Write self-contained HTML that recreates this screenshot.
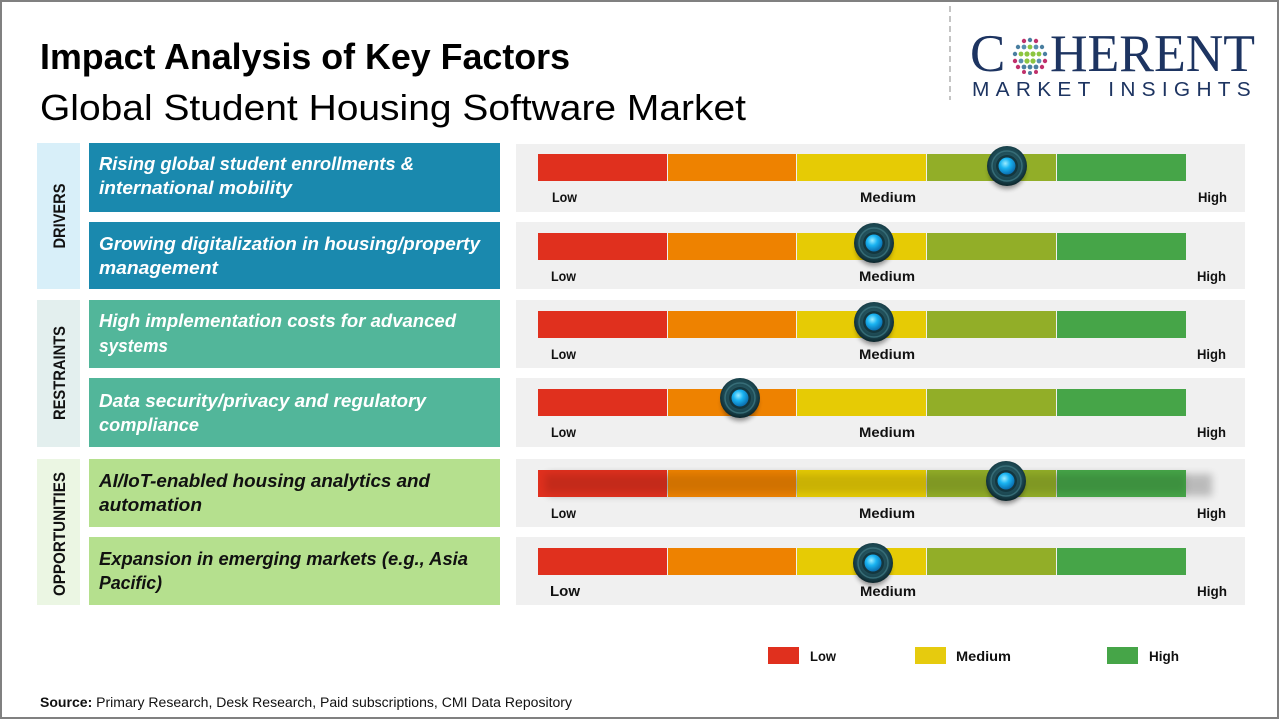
<!DOCTYPE html>
<html><head><meta charset="utf-8"><style>
html,body{margin:0;padding:0;background:#fff;}
svg{display:block;}
text{font-family:"Liberation Sans",sans-serif;}
</style></head><body>
<svg width="1280" height="720" viewBox="0 0 1280 720" xmlns="http://www.w3.org/2000/svg">
<defs>
<radialGradient id="ko" cx="50%" cy="45%" r="55%">
<stop offset="0" stop-color="#2f6570"/><stop offset="0.75" stop-color="#1b4650"/><stop offset="1" stop-color="#0c252b"/>
</radialGradient>
<radialGradient id="kb" cx="40%" cy="35%" r="65%">
<stop offset="0" stop-color="#9cecff"/><stop offset="0.45" stop-color="#1ab4f2"/><stop offset="1" stop-color="#0a6fb0"/>
</radialGradient>
<filter id="bl" x="-50%" y="-50%" width="200%" height="200%"><feGaussianBlur stdDeviation="2.5"/></filter>
<filter id="bl2" x="-20%" y="-100%" width="140%" height="300%"><feGaussianBlur stdDeviation="4"/></filter>
<g id="knob">
<ellipse cx="0" cy="5" rx="18" ry="18" fill="#000" opacity="0.4" filter="url(#bl)"/>
<circle r="20" fill="url(#ko)"/>
<circle r="15" fill="none" stroke="#3d7580" stroke-width="1.5" opacity="0.8"/>
<circle r="11" fill="#14363e"/>
<circle r="8.5" fill="url(#kb)"/>
</g>
<g id="bar">
<rect x="538" y="0" width="129" height="27" fill="#e0301e"/>
<rect x="668" y="0" width="128" height="27" fill="#ee8200"/>
<rect x="797" y="0" width="129" height="27" fill="#e6cb05"/>
<rect x="927" y="0" width="129" height="27" fill="#92ae28"/>
<rect x="1057" y="0" width="129" height="27" fill="#46a548"/>
</g>
</defs>

<!-- border -->
<rect x="1" y="1" width="1277" height="717" fill="#fff" stroke="#808080" stroke-width="2"/>

<!-- Title -->
<text x="40" y="69" font-size="36" font-weight="bold" fill="#000" textLength="530" lengthAdjust="spacingAndGlyphs">Impact Analysis of Key Factors</text>
<text x="40" y="120" font-size="36" fill="#000" textLength="706" lengthAdjust="spacingAndGlyphs">Global Student Housing Software Market</text>

<!-- Logo -->
<line x1="950" y1="6" x2="950" y2="100" stroke="#b0b0b0" stroke-width="1.5" stroke-dasharray="6 4"/>
<text x="970" y="71" font-size="53" fill="#1d3461" style="font-family:'Liberation Serif',serif">C</text>
<text x="1050" y="71" font-size="53" fill="#1d3461" style="font-family:'Liberation Serif',serif" textLength="205" lengthAdjust="spacingAndGlyphs">HERENT</text>
<g>
<circle cx="1024" cy="41" r="2.2" fill="#c0316b"/><circle cx="1030" cy="40" r="2.2" fill="#4a7fa0"/><circle cx="1036" cy="41" r="2.2" fill="#c0316b"/>
<circle cx="1018" cy="47" r="2.2" fill="#4a7fa0"/><circle cx="1024" cy="47" r="2.4" fill="#5a8fb0"/><circle cx="1030" cy="47" r="2.4" fill="#8cc540"/><circle cx="1036" cy="47" r="2.4" fill="#5a8fb0"/><circle cx="1042" cy="47" r="2.2" fill="#4a7fa0"/>
<circle cx="1015" cy="54" r="2.2" fill="#4a7fa0"/><circle cx="1021" cy="54" r="2.4" fill="#8cc540"/><circle cx="1027" cy="54" r="2.6" fill="#8cc540"/><circle cx="1033" cy="54" r="2.6" fill="#8cc540"/><circle cx="1039" cy="54" r="2.4" fill="#8cc540"/><circle cx="1045" cy="54" r="2.2" fill="#4a7fa0"/>
<circle cx="1015" cy="61" r="2.2" fill="#c0316b"/><circle cx="1021" cy="61" r="2.4" fill="#5a8fb0"/><circle cx="1027" cy="61" r="2.6" fill="#8cc540"/><circle cx="1033" cy="61" r="2.6" fill="#8cc540"/><circle cx="1039" cy="61" r="2.4" fill="#5a8fb0"/><circle cx="1045" cy="61" r="2.2" fill="#c0316b"/>
<circle cx="1018" cy="67" r="2.2" fill="#c0316b"/><circle cx="1024" cy="67" r="2.4" fill="#4a7fa0"/><circle cx="1030" cy="67" r="2.4" fill="#4a7fa0"/><circle cx="1036" cy="67" r="2.4" fill="#4a7fa0"/><circle cx="1042" cy="67" r="2.2" fill="#c0316b"/>
<circle cx="1024" cy="72" r="2" fill="#c0316b"/><circle cx="1030" cy="73" r="2" fill="#4a7fa0"/><circle cx="1036" cy="72" r="2" fill="#c0316b"/>
</g>
<text x="972" y="96" font-size="20" fill="#1d3461" textLength="285" lengthAdjust="spacingAndGlyphs" letter-spacing="6">MARKET INSIGHTS</text>

<!-- Category boxes -->
<rect x="37" y="143" width="43" height="146" fill="#d8eff9"/>
<rect x="37" y="300" width="43" height="147" fill="#e3efee"/>
<rect x="37" y="459" width="43" height="146" fill="#ebf6e3"/>
<text transform="translate(65,216) rotate(-90)" text-anchor="middle" font-size="17" font-weight="bold" fill="#111" textLength="65" lengthAdjust="spacingAndGlyphs">DRIVERS</text>
<text transform="translate(65,373) rotate(-90)" text-anchor="middle" font-size="17" font-weight="bold" fill="#111" textLength="94" lengthAdjust="spacingAndGlyphs">RESTRAINTS</text>
<text transform="translate(65,534) rotate(-90)" text-anchor="middle" font-size="17" font-weight="bold" fill="#111" textLength="124" lengthAdjust="spacingAndGlyphs">OPPORTUNITIES</text>

<!-- Factor boxes -->
<rect x="89" y="143" width="411" height="69" fill="#1a89ae"/>
<rect x="89" y="222" width="411" height="67" fill="#1a89ae"/>
<rect x="89" y="300" width="411" height="68" fill="#52b69a"/>
<rect x="89" y="378" width="411" height="69" fill="#52b69a"/>
<rect x="89" y="459" width="411" height="68" fill="#b5e08e"/>
<rect x="89" y="537" width="411" height="68" fill="#b5e08e"/>

<g font-size="18" font-weight="bold" font-style="italic">
<text x="99" y="170" fill="#fff" textLength="315" lengthAdjust="spacingAndGlyphs">Rising global student enrollments &amp;</text>
<text x="99" y="194" fill="#fff" textLength="193" lengthAdjust="spacingAndGlyphs">international mobility</text>
<text x="99" y="250" fill="#fff" textLength="381" lengthAdjust="spacingAndGlyphs">Growing digitalization in housing/property</text>
<text x="99" y="274" fill="#fff" textLength="119" lengthAdjust="spacingAndGlyphs">management</text>
<text x="99" y="327" fill="#fff" textLength="357" lengthAdjust="spacingAndGlyphs">High implementation costs for advanced</text>
<text x="99" y="352" fill="#fff" textLength="69" lengthAdjust="spacingAndGlyphs">systems</text>
<text x="99" y="407" fill="#fff" textLength="327" lengthAdjust="spacingAndGlyphs">Data security/privacy and regulatory</text>
<text x="99" y="431" fill="#fff" textLength="100" lengthAdjust="spacingAndGlyphs">compliance</text>
<text x="99" y="487" fill="#111" textLength="331" lengthAdjust="spacingAndGlyphs">AI/IoT-enabled housing analytics and</text>
<text x="99" y="511" fill="#111" textLength="103" lengthAdjust="spacingAndGlyphs">automation</text>
<text x="99" y="565" fill="#111" textLength="369" lengthAdjust="spacingAndGlyphs">Expansion in emerging markets (e.g., Asia</text>
<text x="99" y="589" fill="#111" textLength="63" lengthAdjust="spacingAndGlyphs">Pacific)</text>
</g>

<!-- Gauge panels -->
<rect x="516" y="144" width="729" height="68" fill="#f0f0f0"/>
<rect x="516" y="222" width="729" height="67" fill="#f0f0f0"/>
<rect x="516" y="300" width="729" height="68" fill="#f0f0f0"/>
<rect x="516" y="378" width="729" height="69" fill="#f0f0f0"/>
<rect x="516" y="459" width="729" height="68" fill="#f0f0f0"/>
<rect x="516" y="537" width="729" height="68" fill="#f0f0f0"/>

<use href="#bar" y="154"/>
<use href="#bar" y="233"/>
<use href="#bar" y="311"/>
<use href="#bar" y="389"/>
<rect x="548" y="474" width="664" height="22" fill="#000" opacity="0.22" filter="url(#bl2)"/>
<use href="#bar" y="470"/>
<rect x="545" y="474" width="641" height="19" fill="#000" opacity="0.12" filter="url(#bl2)"/>
<use href="#bar" y="548"/>

<g font-size="14" font-weight="bold" fill="#111">
<text x="552" y="202" textLength="25" lengthAdjust="spacingAndGlyphs">Low</text>
<text x="860" y="202" textLength="56" lengthAdjust="spacingAndGlyphs">Medium</text>
<text x="1198" y="202" textLength="29" lengthAdjust="spacingAndGlyphs">High</text>
<text x="551" y="281" textLength="25" lengthAdjust="spacingAndGlyphs">Low</text>
<text x="859" y="281" textLength="56" lengthAdjust="spacingAndGlyphs">Medium</text>
<text x="1197" y="281" textLength="29" lengthAdjust="spacingAndGlyphs">High</text>
<text x="551" y="359" textLength="25" lengthAdjust="spacingAndGlyphs">Low</text>
<text x="859" y="359" textLength="56" lengthAdjust="spacingAndGlyphs">Medium</text>
<text x="1197" y="359" textLength="29" lengthAdjust="spacingAndGlyphs">High</text>
<text x="551" y="437" textLength="25" lengthAdjust="spacingAndGlyphs">Low</text>
<text x="859" y="437" textLength="56" lengthAdjust="spacingAndGlyphs">Medium</text>
<text x="1197" y="437" textLength="29" lengthAdjust="spacingAndGlyphs">High</text>
<text x="551" y="518" textLength="25" lengthAdjust="spacingAndGlyphs">Low</text>
<text x="859" y="518" textLength="56" lengthAdjust="spacingAndGlyphs">Medium</text>
<text x="1197" y="518" textLength="29" lengthAdjust="spacingAndGlyphs">High</text>
<text x="550" y="596" font-size="15" textLength="30" lengthAdjust="spacingAndGlyphs">Low</text>
<text x="860" y="596" textLength="56" lengthAdjust="spacingAndGlyphs">Medium</text>
<text x="1197" y="596" textLength="30" lengthAdjust="spacingAndGlyphs">High</text>
</g>

<!-- Knobs -->
<use href="#knob" x="1007" y="166"/>
<use href="#knob" x="874" y="243"/>
<use href="#knob" x="874" y="322"/>
<use href="#knob" x="740" y="398"/>
<use href="#knob" x="1006" y="481"/>
<use href="#knob" x="873" y="563"/>

<!-- Legend -->
<rect x="768" y="647" width="31" height="17" fill="#e0301e"/>
<text x="810" y="661" font-size="14" font-weight="bold" fill="#111" textLength="26" lengthAdjust="spacingAndGlyphs">Low</text>
<rect x="915" y="647" width="31" height="17" fill="#e6cb0e"/>
<text x="956" y="661" font-size="14" font-weight="bold" fill="#111" textLength="55" lengthAdjust="spacingAndGlyphs">Medium</text>
<rect x="1107" y="647" width="31" height="17" fill="#46a548"/>
<text x="1149" y="661" font-size="14" font-weight="bold" fill="#111" textLength="30" lengthAdjust="spacingAndGlyphs">High</text>

<!-- Source -->
<text x="40" y="707" font-size="13.5" fill="#111" textLength="532" lengthAdjust="spacingAndGlyphs"><tspan font-weight="bold">Source:</tspan> Primary Research, Desk Research, Paid subscriptions, CMI Data Repository</text>
</svg>
</body></html>
